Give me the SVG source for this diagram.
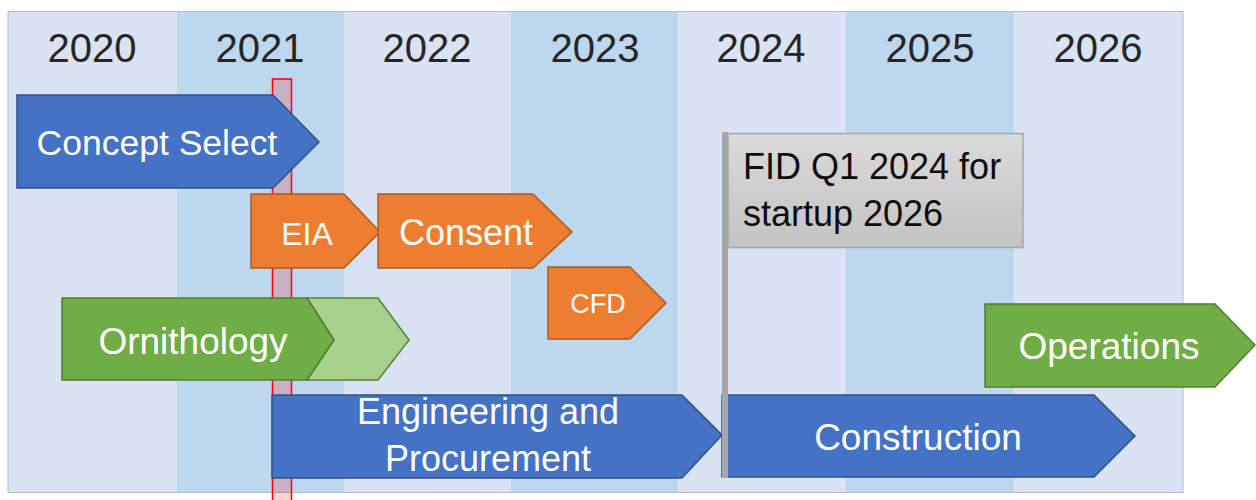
<svg xmlns="http://www.w3.org/2000/svg" width="1256" height="500" viewBox="0 0 1256 500">
<style>
.yr{font-family:"Liberation Sans",Arial,sans-serif;font-size:40px;fill:#262626;text-anchor:middle}
.lbl{font-family:"Liberation Sans",Arial,sans-serif;fill:#ffffff;text-anchor:middle}
.blue{fill:#4472C4;stroke:#2F528F;stroke-width:1.5}
.orange{fill:#ED7D31;stroke:#AE5A21;stroke-width:1.5}
.green{fill:#70AD47;stroke:#507E32;stroke-width:1.5}
.lgreen{fill:#A9D18E;stroke:#548235;stroke-width:1.5}
.colA{fill:#DAE3F3}
.colB{fill:#BDD7EE}
</style>
<defs>
<linearGradient id="flagGrad" x1="0" y1="0" x2="0" y2="1">
<stop offset="0" stop-color="#DADADA"/>
<stop offset="1" stop-color="#C3C3C3"/>
</linearGradient>
</defs>
<rect width="1256" height="500" fill="#ffffff"/>
<g id="timeline-background">
<rect class="colA" x="8" y="11" width="169" height="481"/>
<rect class="colB" x="177" y="12" width="167" height="481"/>
<rect class="colA" x="344" y="12" width="167" height="481"/>
<rect class="colB" x="511" y="12" width="167" height="481"/>
<rect class="colA" x="678" y="12" width="168" height="481"/>
<rect class="colB" x="846" y="12" width="168" height="481"/>
<rect class="colA" x="1014" y="12" width="169" height="481"/>
<rect x="8" y="11.5" width="1175" height="481" fill="none" stroke="#B4BBC8" stroke-width="1"/>
</g>
<g id="years">
<text class="yr" x="92" y="62">2020</text>
<text class="yr" x="260" y="62">2021</text>
<text class="yr" x="427" y="62">2022</text>
<text class="yr" x="595" y="62">2023</text>
<text class="yr" x="761" y="62">2024</text>
<text class="yr" x="930" y="62">2025</text>
<text class="yr" x="1098" y="62">2026</text>
</g>
<g id="today-marker">
<rect x="272.5" y="79" width="19" height="425" fill="#FF0000" fill-opacity="0.18" stroke="#FF0000" stroke-width="1.5"/>
</g>
<g id="concept-select">
<polygon class="blue" points="17,95 273,95 319,142 273,188 17,188"/>
<text class="lbl" x="157" y="155" font-size="35.5">Concept Select</text>
</g>
<g id="eia">
<polygon class="orange" points="251,194 344,194 380,232 344,268 251,268"/>
<text class="lbl" x="307" y="245" font-size="32">EIA</text>
</g>
<g id="consent">
<polygon class="orange" points="378,194 533,194 572,232 533,268 378,268"/>
<text class="lbl" x="466" y="245" font-size="36">Consent</text>
</g>
<g id="cfd">
<polygon class="orange" points="548,267 630,267 666,303 630,339 548,339"/>
<text class="lbl" x="598" y="313" font-size="27">CFD</text>
</g>
<g id="ornithology-extension">
<polygon class="lgreen" points="307,298 378,298 409,340 378,380 307,380 334,340"/>
</g>
<g id="ornithology">
<polygon class="green" points="62,298 307,298 334,340 307,380 62,380"/>
<text class="lbl" x="193" y="354" font-size="37">Ornithology</text>
</g>
<g id="operations">
<polygon class="green" points="985,304 1215,304 1255,345 1215,387 985,387"/>
<text class="lbl" x="1109" y="359" font-size="37">Operations</text>
</g>
<g id="engineering">
<polygon class="blue" points="272,395 682,395 722,435 682,478 272,478"/>
<text class="lbl" x="488" y="424" font-size="36">Engineering and</text>
<text class="lbl" x="488" y="471" font-size="36">Procurement</text>
</g>
<g id="construction">
<polygon class="blue" points="722,395 1094,395 1135,436 1094,477 722,477"/>
<text class="lbl" x="918" y="450" font-size="37">Construction</text>
</g>
<g id="fid-flag">
<rect x="722" y="132" width="6" height="346" fill="#A6A6A6"/>
<rect x="728" y="133.5" width="295" height="114" fill="url(#flagGrad)" stroke="#A6A6A6" stroke-width="1.5"/>
<text font-family="'Liberation Sans',Arial,sans-serif" font-size="36" fill="#0D0D0D">
<tspan x="743" y="179">FID Q1 2024 for</tspan>
<tspan x="743" y="226">startup 2026</tspan>
</text>
</g>
<g id="connectors"></g>
</svg>
